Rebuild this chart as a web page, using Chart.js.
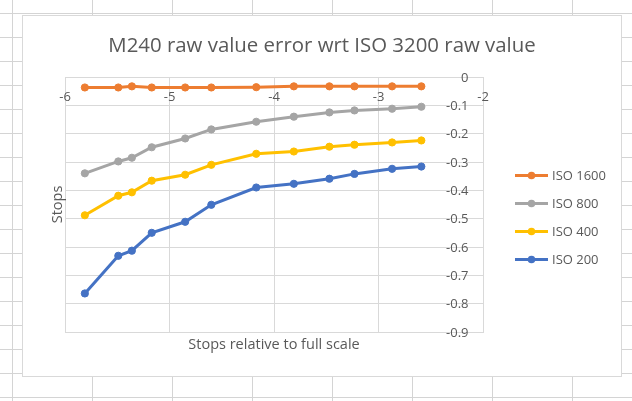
<!DOCTYPE html>
<html>
<head>
<meta charset="utf-8">
<script src="https://cdn.jsdelivr.net/npm/chart.js@4/dist/chart.umd.min.js"></script>
<style>
html,body{margin:0;padding:0;background:#fff;overflow:hidden}
#wrap{position:relative;width:632px;height:401px}
canvas{display:block}
</style>
</head>
<body>
<div id="wrap"><canvas id="c" width="632" height="401"></canvas></div>
<script>
// ---- data ----
const chartTitle = 'M240 raw value error wrt ISO 3200 raw value';
const xAxisTitle = 'Stops relative to full scale';
const yAxisTitle = 'Stops';
const seriesNames = ['ISO 1600', 'ISO 800', 'ISO 400', 'ISO 200'];
const xStops = [-5.81, -5.49, -5.36, -5.17, -4.85, -4.60, -4.17, -3.81, -3.47, -3.23, -2.87, -2.59];
const iso1600 = [-0.037, -0.037, -0.033, -0.037, -0.037, -0.037, -0.036, -0.033, -0.033, -0.033, -0.033, -0.033];
const iso800  = [-0.340, -0.298, -0.285, -0.248, -0.217, -0.185, -0.158, -0.140, -0.125, -0.118, -0.112, -0.105];
const iso400  = [-0.488, -0.419, -0.407, -0.366, -0.345, -0.310, -0.271, -0.263, -0.246, -0.239, -0.231, -0.224];
const iso200  = [-0.764, -0.631, -0.613, -0.550, -0.511, -0.451, -0.390, -0.377, -0.359, -0.342, -0.324, -0.316];
const xTickValues = [-6, -5, -4, -3, -2];
const xTickLabels = ['-6', '-5', '-4', '-3', '-2'];
const yTickValues = [0, -0.1, -0.2, -0.3, -0.4, -0.5, -0.6, -0.7, -0.8, -0.9];
const yTickLabels = ['0', '-0.1', '-0.2', '-0.3', '-0.4', '-0.5', '-0.6', '-0.7', '-0.8', '-0.9'];

// ---- styles ----
const seriesColors = ['#ED7D31', '#A5A5A5', '#FFC000', '#4472C4'];
const FONT = '"Open Sans", "Noto Sans", sans-serif';
const TEXT = '#595959';
const GRID = '#D9D9D9';

const seriesValues = [iso1600, iso800, iso400, iso200];
const datasets = seriesNames.map((name, i) => ({
  label: name,
  data: xStops.map((x, j) => ({x: x, y: seriesValues[i][j]})),
  showLine: true,
  borderColor: seriesColors[i],
  backgroundColor: seriesColors[i],
  borderWidth: 3,
  pointRadius: 3.6,
  pointHoverRadius: 3.6,
  pointBorderWidth: 1,
  tension: 0
}));

const decor = {
  id: 'decor',
  beforeDraw(chart) {
    const ctx = chart.ctx;
    const W = chart.width, H = chart.height;
    ctx.save();
    ctx.fillStyle = '#fff';
    ctx.fillRect(0, 0, W, H);
    // spreadsheet cells
    ctx.strokeStyle = '#D4D4D4';
    ctx.lineWidth = 1;
    ctx.beginPath();
    for (let x = 12; x < W; x += 80) { ctx.moveTo(x + 0.5, 0); ctx.lineTo(x + 0.5, H); }
    for (let y = 13; y < H; y += 24) { ctx.moveTo(0, y + 0.5); ctx.lineTo(W, y + 0.5); }
    ctx.stroke();
    // chart box
    ctx.fillStyle = '#fff';
    ctx.fillRect(22, 15, 600, 362);
    ctx.strokeStyle = GRID;
    ctx.strokeRect(22.5, 15.5, 599, 361);
    ctx.restore();
  },
  afterDraw(chart) {
    const ctx = chart.ctx;
    const xs = chart.scales.x, ys = chart.scales.y;
    const ca = chart.chartArea;
    ctx.save();
    ctx.fillStyle = TEXT;
    // title
    ctx.font = '20.4px ' + FONT;
    ctx.textAlign = 'center';
    ctx.textBaseline = 'alphabetic';
    ctx.fillText(chartTitle, 322, 51.5);
    // x tick labels (below the x axis line, Excel style)
    ctx.font = '13px ' + FONT;
    xTickValues.forEach((v, i) => {
      ctx.fillText(xTickLabels[i], xs.getPixelForValue(v), ys.getPixelForValue(0) + 23.5);
    });
    // y tick labels (left of the right-hand axis line)
    ctx.textAlign = 'right';
    yTickValues.forEach((v, i) => {
      ctx.fillText(yTickLabels[i], xs.getPixelForValue(-2) - 14.5, ys.getPixelForValue(v) + 4.6);
    });
    // axis titles
    ctx.font = '14.5px ' + FONT;
    ctx.textAlign = 'center';
    ctx.textBaseline = 'middle';
    ctx.fillText(xAxisTitle, (ca.left + ca.right) / 2, 344.5);
    ctx.save();
    ctx.translate(58, (ca.top + ca.bottom) / 2);
    ctx.rotate(-Math.PI / 2);
    ctx.fillText(yAxisTitle, 0, 0);
    ctx.restore();
    // legend
    ctx.font = '13px ' + FONT;
    ctx.textAlign = 'left';
    ctx.textBaseline = 'alphabetic';
    chart.data.datasets.forEach((ds, i) => {
      const y = 175.5 + 28 * i;
      ctx.strokeStyle = ds.borderColor;
      ctx.lineWidth = 3;
      ctx.beginPath();
      ctx.moveTo(515, y); ctx.lineTo(548, y);
      ctx.stroke();
      ctx.fillStyle = ds.borderColor;
      ctx.beginPath();
      ctx.arc(531.5, y, 3.8, 0, Math.PI * 2);
      ctx.fill();
      ctx.fillStyle = TEXT;
      ctx.fillText(ds.label, 552, y + 4.6);
    });
    ctx.restore();
  }
};

new Chart(document.getElementById('c'), {
  type: 'scatter',
  data: { datasets: datasets },
  options: {
    responsive: false,
    devicePixelRatio: 1,
    animation: false,
    events: [],
    layout: { padding: { left: 65, top: 77, right: 149, bottom: 69 } },
    plugins: {
      legend: { display: false },
      title: { display: false },
      tooltip: { enabled: false }
    },
    scales: {
      x: {
        type: 'linear', position: 'top', min: -6, max: -2,
        ticks: { display: false, stepSize: 1 },
        grid: { color: GRID, lineWidth: 1, drawTicks: false },
        border: { display: true, color: GRID, width: 1 }
      },
      y: {
        type: 'linear', position: 'right', min: -0.9, max: 0,
        ticks: { display: false, stepSize: 0.1 },
        grid: { color: GRID, lineWidth: 1, drawTicks: false },
        border: { display: true, color: GRID, width: 1 }
      }
    }
  },
  plugins: [decor]
});
</script>
</body>
</html>
